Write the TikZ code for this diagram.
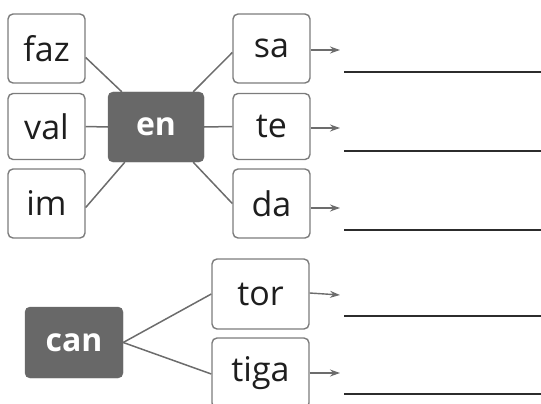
\documentclass[tikz,border=0pt]{standalone}
\usepackage{fontspec}
\setmainfont{Open Sans}
\usetikzlibrary{arrows.meta}
\definecolor{boxline}{HTML}{7C7C7C}
\definecolor{darkfill}{HTML}{686868}
\definecolor{conn}{HTML}{6C6C6C}
\definecolor{ansline}{HTML}{2C2C2C}
\definecolor{wordtext}{HTML}{1E1E1E}
\tikzset{
  wordbox/.style={draw=boxline, line width=1.4pt, rounded corners=5pt, fill=white,
    minimum width=77pt, minimum height=69pt, inner sep=0pt,
    font=\fontsize{34}{38}\selectfont, text=wordtext},
  rootbox/.style={draw=darkfill, fill=darkfill, rounded corners=5pt,
    minimum width=96pt, minimum height=70pt, inner sep=0pt,
    font=\fontsize{32}{36}\selectfont\bfseries, text=white},
  link/.style={draw=conn, line width=1.5pt},
  pointer/.style={draw=conn, line width=1.4pt, -{Stealth[length=10pt,width=7pt]}},
  answer/.style={draw=ansline, line width=1.7pt}
}
\begin{document}
\begin{tikzpicture}[x=1pt,y=-1pt]
\useasboundingbox (0,0) rectangle (541,404);
% left group
\node[wordbox] (faz) at (46.5,48.5) {faz};
\node[wordbox, minimum height=66pt] (val) at (46.5,126.5) {val};
\node[wordbox] (im) at (46.5,203.5) {im};
\node[rootbox] (en) at (156,127) {en};
\node[wordbox] (sa) at (271.5,48.5) {sa};
\node[wordbox, minimum height=66pt] (te) at (271.5,126.5) {te};
\node[wordbox] (da) at (271.5,203.5) {da};
% bottom group
\node[rootbox, minimum width=98pt, minimum height=71pt] (can) at (74,342.5) {can};
\node[wordbox, minimum width=97pt, minimum height=70pt] (tor) at (260.5,294) {tor};
\node[wordbox, minimum width=97pt, minimum height=70pt] (tiga) at (260.5,373) {tiga};
% connectors
\draw[link] ([yshift=-9pt]faz.east) -- ([xshift=14pt]en.north west);
\draw[link] (val.east) -- (en.west);
\draw[link] ([yshift=-4pt]im.east) -- ([xshift=17pt]en.south west);
\draw[link] ([yshift=-4pt]sa.west) -- ([xshift=-11pt]en.north east);
\draw[link] (en.east) -- (te.west);
\draw[link] (da.west) -- ([xshift=-11pt]en.south east);
\draw[link] (can.east) -- (tor.west);
\draw[link] (can.east) -- ([yshift=-1pt]tiga.west);
% arrows and answer lines
\coordinate (a1) at (340,50);
\coordinate (a2) at (340,128);
\coordinate (a3) at (340,208);
\coordinate (a4) at (340,295);
\coordinate (a5) at (340,373);
\draw[pointer] ([yshift=-1.5pt]sa.east) -- (a1);
\draw[pointer] ([yshift=-1.5pt]te.east) -- (a2);
\draw[pointer] ([yshift=-4.5pt]da.east) -- (a3);
\draw[pointer] ([yshift=1pt]tor.east) -- (a4);
\draw[pointer] (tiga.east) -- (a5);
\coordinate (l1a) at (344,72);  \coordinate (l1b) at (541,72);
\coordinate (l2a) at (344,151); \coordinate (l2b) at (541,151);
\coordinate (l3a) at (344,230); \coordinate (l3b) at (541,230);
\coordinate (l4a) at (344,316); \coordinate (l4b) at (541,316);
\coordinate (l5a) at (344,394); \coordinate (l5b) at (541,394);
\draw[answer] (l1a) -- (l1b);
\draw[answer] (l2a) -- (l2b);
\draw[answer] (l3a) -- (l3b);
\draw[answer] (l4a) -- (l4b);
\draw[answer] (l5a) -- (l5b);
\end{tikzpicture}
\end{document}
